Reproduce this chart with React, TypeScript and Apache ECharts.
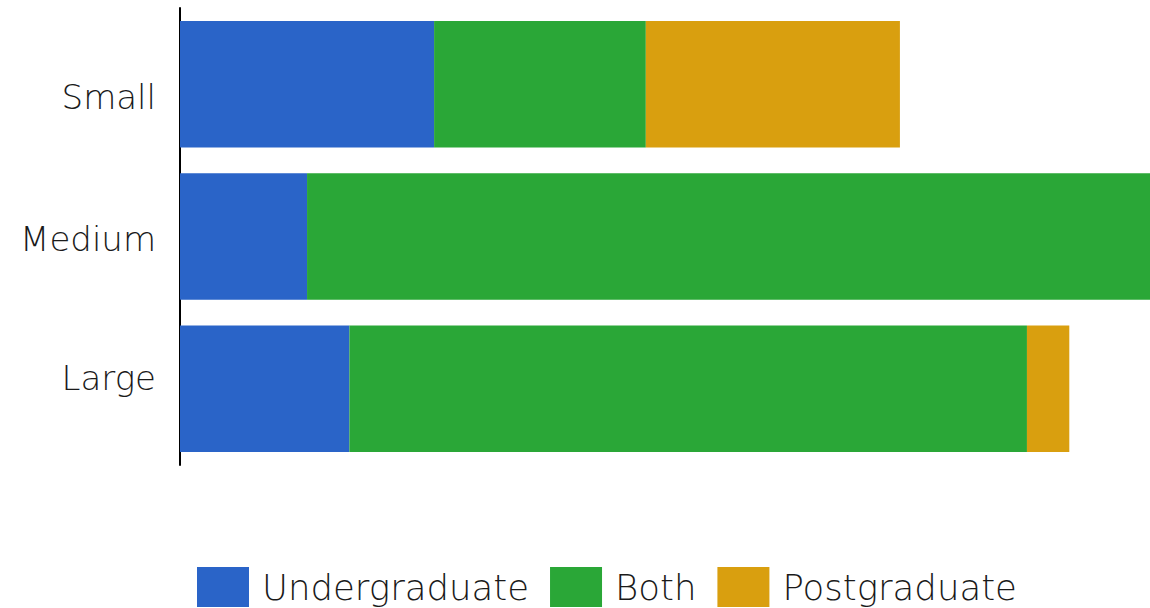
import React, { useEffect, useRef } from "react";
import * as echarts from "echarts";

const categories = ["Small", "Medium", "Large"];
const undergraduate = [6, 3, 4];
const both = [5, 20, 16];
const postgraduate = [6, 0, 1];

const seriesNames = ["Undergraduate", "Both", "Postgraduate"];
const colors = ["#2A64C8", "#2AA737", "#D99F0F"];

const FONT = "'DejaVu Sans', sans-serif";

// Small label sits a little low, Large a little high, relative to the bar centres
const labelRich: Record<string, { padding: number[] }> = {
  Small: { padding: [26, 0, 0, 0] },
  Medium: { padding: [4, 0, 0, 0] },
  Large: { padding: [0, 0, 22, 0] },
};

export default function App() {
  const ref = useRef<HTMLDivElement>(null);

  useEffect(() => {
    document.body.style.margin = "0";
    const chart = echarts.init(ref.current!, undefined, { renderer: "svg" });
    const values = [undergraduate, both, postgraduate];
    const labelStyle = { fontSize: 34, fontWeight: 300, color: "#1a1a1a", fontFamily: FONT };
    const rich: Record<string, object> = {};
    categories.forEach((c) => {
      rich[c] = { ...labelStyle, ...labelRich[c] };
    });
    chart.setOption({
      animation: false,
      grid: {
        left: 180,
        top: 8,
        width: 974,
        height: 457,
        containLabel: false,
        outerBoundsMode: "none",
      },
      xAxis: {
        type: "value",
        min: 0,
        max: 23,
        show: false,
      },
      yAxis: {
        type: "category",
        data: categories,
        inverse: true,
        axisLine: { show: true, lineStyle: { color: "#000", width: 2 } },
        axisTick: { show: false },
        axisLabel: {
          ...labelStyle,
          margin: 24,
          formatter: (v: string) => `{${v}|${v}}`,
          rich,
        },
      },
      legend: {
        left: 192,
        top: 562,
        itemWidth: 52,
        itemHeight: 40,
        itemGap: 21,
        icon: "rect",
        textStyle: {
          fontSize: 35.5,
          fontWeight: 300,
          color: "#1a1a1a",
          fontFamily: FONT,
          padding: [0, 0, 0, 8],
        },
        data: seriesNames,
      },
      series: seriesNames.map((name, i) => ({
        name,
        type: "bar",
        stack: "total",
        barCategoryGap: "17%",
        itemStyle: { color: colors[i] },
        data: values[i],
      })),
    });
    return () => chart.dispose();
  }, []);

  return <div ref={ref} style={{ width: 1150, height: 608 }} />;
}
